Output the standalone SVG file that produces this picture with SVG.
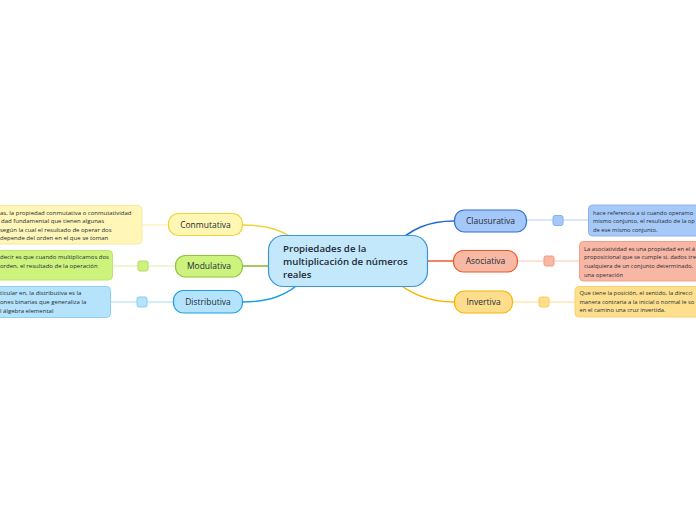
<svg xmlns="http://www.w3.org/2000/svg" width="696" height="520" viewBox="0 0 696 520">
<style>
text{font-family:"Open Sans","Noto Sans","Liberation Sans",sans-serif;fill:#1d2b36}
.n{font-size:8.5px;font-weight:500;text-anchor:middle}
.c{font-size:9.7px;font-weight:600}
.t{font-size:6px}
.r{font-size:5.8px}
.cn{fill:none;stroke-width:1.5}
.tl{fill:none;stroke-width:1}
</style>
<rect width="696" height="520" fill="#ffffff"/>
<g id="connectors">
<path class="cn" d="M243,225 C268,225 286,230 305,248" stroke="#eed33a"/>
<path class="cn" d="M242,266 L280,266" stroke="#86b72a"/>
<path class="cn" d="M242,302 C268,302 288,296 305,278" stroke="#1ba0e2"/>
<path class="cn" d="M454,221 C430,221 410,228 392,248" stroke="#2168d4"/>
<path class="cn" d="M416,261 L453,261" stroke="#ea5a2e"/>
<path class="cn" d="M454,302 C430,302 410,295 392,278" stroke="#f5b800"/>
<path class="tl" d="M142,225 L168,225" stroke="#fbeea0"/>
<path class="tl" d="M112,266 L175,266" stroke="#d8efa6"/>
<path class="tl" d="M110,302 L173,302" stroke="#a6dbf6"/>
<path class="tl" d="M526,220 L589,220" stroke="#b2cdf6"/>
<path class="tl" d="M517,261 L580,261" stroke="#f8c4b3"/>
<path class="tl" d="M512,302 L575,302" stroke="#fdda90"/>
</g>
<g id="central">
<rect x="268.5" y="235.5" width="159" height="51" rx="15" fill="#c4e8fb" stroke="#3d95d8" stroke-width="1.2"/>
<text class="c" x="283" y="252">Propiedades de la</text>
<text class="c" x="283" y="264.5">multiplicación de números</text>
<text class="c" x="283" y="277.5">reales</text>
</g>
<g id="conmutativa">
<rect x="168.5" y="213.5" width="74" height="22" rx="10" fill="#fff7b3" stroke="#eed33a" stroke-width="1.2"/>
<text class="n" x="205.5" y="227.5">Conmutativa</text>
</g>
<g id="conmutativa-text">
<rect x="-10" y="205.5" width="152" height="38.5" rx="4" fill="#fff6b8" stroke="#f7e9a0"/>
<text class="t" x="0" y="214.5">as, la propiedad conmutativa o conmutatividad</text>
<text class="t" x="1" y="223">dad fundamental que tienen algunas</text>
<text class="t" x="0" y="231.5">según la cual el resultado de operar dos</text>
<text class="t" x="0" y="240">depende del orden en el que se toman</text>
</g>
<g id="modulativa">
<rect x="175.5" y="255.5" width="67" height="21.5" rx="10" fill="#cdf37e" stroke="#8cc43a" stroke-width="1.2"/>
<text class="n" x="209" y="269">Modulativa</text>
</g>
<g id="modulativa-text">
<rect x="-10" y="250.5" width="122.5" height="29.5" rx="4" fill="#cef37d" stroke="#bde46e"/>
<rect x="138" y="261" width="10" height="10" rx="2" fill="#cef37d" stroke="#b2dc5e"/>
<text class="t" x="0" y="259">decir es que cuando multiplicamos dos</text>
<text class="t" x="0" y="268">orden, el resultado de la operación</text>
</g>
<g id="distributiva">
<rect x="173.5" y="290.5" width="69" height="22.5" rx="10" fill="#b5e3fb" stroke="#1ba0e2" stroke-width="1.2"/>
<text class="n" x="208" y="304.5">Distributiva</text>
</g>
<g id="distributiva-text">
<rect x="-10" y="286.5" width="120.5" height="31" rx="4" fill="#b5e3fb" stroke="#8fd0f2"/>
<rect x="137" y="297" width="10" height="10" rx="2" fill="#b5e3fb" stroke="#86cbef"/>
<text class="t" x="0" y="295">ticular en, la distributiva es la</text>
<text class="t" x="0" y="304">ones binarias que generaliza la</text>
<text class="t" x="0" y="313">l álgebra elemental</text>
</g>
<g id="clausurativa">
<rect x="454.5" y="210" width="72" height="22" rx="10" fill="#a6c8f8" stroke="#2f70d6" stroke-width="1.2"/>
<text class="n" x="490.5" y="224">Clausurativa</text>
</g>
<g id="clausurativa-text">
<rect x="553" y="215.5" width="10" height="10" rx="2" fill="#a6c8f8" stroke="#86b0ee"/>
<rect x="588.5" y="205" width="120" height="31" rx="4" fill="#a7c9f8" stroke="#8ab3f0"/>
<text class="r" x="593" y="214.5">hace referencia a si cuando operamo</text>
<text class="r" x="593" y="223">mismo conjunto, el resultado de la op</text>
<text class="r" x="593" y="231.5">de ese mismo conjunto.</text>
</g>
<g id="asociativa">
<rect x="453.5" y="250.5" width="64" height="21.5" rx="10" fill="#f8b9a4" stroke="#ea5a2e" stroke-width="1.2"/>
<text class="n" x="485.5" y="264">Asociativa</text>
</g>
<g id="asociativa-text">
<rect x="544" y="256" width="10" height="10" rx="2" fill="#f8b9a4" stroke="#f09a80"/>
<rect x="579.5" y="241.5" width="130" height="39.5" rx="4" fill="#f8b7a5" stroke="#f0a08a"/>
<text class="r" x="584" y="250.5">La asociatividad es una propiedad en el á</text>
<text class="r" x="584" y="259">proposicional que se cumple si, dados tre</text>
<text class="r" x="584" y="268">cualquiera de un conjunto determinado,</text>
<text class="r" x="584" y="276.5">una operación</text>
</g>
<g id="invertiva">
<rect x="454.5" y="291" width="58" height="22" rx="10" fill="#fedd8c" stroke="#f5b800" stroke-width="1.2"/>
<text class="n" x="483.5" y="305">Invertiva</text>
</g>
<g id="invertiva-text">
<rect x="539" y="297" width="10" height="10" rx="2" fill="#fedd8c" stroke="#f8cc60"/>
<rect x="575" y="286.5" width="130" height="30.5" rx="4" fill="#fedf8e" stroke="#fbd070"/>
<text class="r" x="579.5" y="294.5">Que tiene la posición, el sentido, la direcci</text>
<text class="r" x="579.5" y="303.5">manera contraria a la inicial o normal le so</text>
<text class="r" x="579.5" y="311.5">en el camino una cruz invertida.</text>
</g>
</svg>
